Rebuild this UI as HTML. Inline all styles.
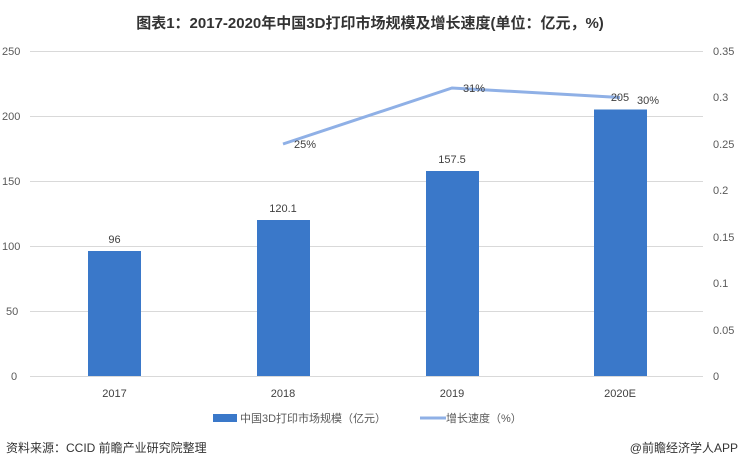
<!DOCTYPE html>
<html><head><meta charset="utf-8"><style>
body{margin:0;background:#fff;}
svg text{font-family:"Liberation Sans","Noto Sans CJK SC",sans-serif;}
</style></head><body>
<svg width="741" height="469" viewBox="0 0 741 469" xmlns="http://www.w3.org/2000/svg">
<text x="370" y="28" text-anchor="middle" font-size="15" font-weight="bold" fill="#333">图表1：2017-2020年中国3D打印市场规模及增长速度(单位：亿元，%)</text>
<g stroke="#d9d9d9" stroke-width="1">
<line x1="30" x2="703" y1="51.5" y2="51.5"/><line x1="30" x2="703" y1="116.5" y2="116.5"/>
<line x1="30" x2="703" y1="181.5" y2="181.5"/><line x1="30" x2="703" y1="246.5" y2="246.5"/>
<line x1="30" x2="703" y1="311.5" y2="311.5"/><line x1="30" x2="703" y1="376.5" y2="376.5"/>
</g>
<g font-size="11" fill="#595959">
<text x="2" y="55">250</text><text x="2" y="120">200</text><text x="2" y="185">150</text>
<text x="2" y="250">100</text><text x="6" y="315">50</text><text x="11" y="380">0</text>
<text x="713" y="55">0.35</text><text x="713" y="101">0.3</text><text x="713" y="148">0.25</text>
<text x="713" y="194">0.2</text><text x="713" y="241">0.15</text><text x="713" y="287">0.1</text>
<text x="713" y="334">0.05</text><text x="713" y="380">0</text>
</g>
<g fill="#3a78c9">
<rect x="88" y="251" width="53" height="125"/>
<rect x="257" y="220" width="53" height="156"/>
<rect x="426" y="171" width="53" height="205"/>
<rect x="594" y="109.5" width="53" height="266.5"/>
</g>
<polyline points="283,144 452,88 620,97.5" fill="none" stroke="#8fb0e6" stroke-width="3"/>
<g font-size="11" fill="#404040" text-anchor="middle">
<text x="114.5" y="243">96</text><text x="283" y="212">120.1</text>
<text x="452" y="163">157.5</text><text x="620" y="101">205</text>
<text x="305" y="148">25%</text><text x="474" y="92">31%</text><text x="648" y="104">30%</text>
<text x="114.5" y="397">2017</text><text x="283" y="397">2018</text>
<text x="452" y="397">2019</text><text x="620" y="397">2020E</text>
</g>
<rect x="213" y="414" width="24" height="8" fill="#3a78c9"/>
<text x="240" y="422" font-size="11" fill="#595959">中国3D打印市场规模（亿元）</text>
<line x1="420" x2="446" y1="418" y2="418" stroke="#8fb0e6" stroke-width="3"/>
<text x="446" y="422" font-size="11" fill="#595959">增长速度（%）</text>
<text x="6" y="452" font-size="12" fill="#333">资料来源：CCID 前瞻产业研究院整理</text>
<text x="738" y="452" font-size="12" fill="#333" text-anchor="end">@前瞻经济学人APP</text>
</svg>
</body></html>
